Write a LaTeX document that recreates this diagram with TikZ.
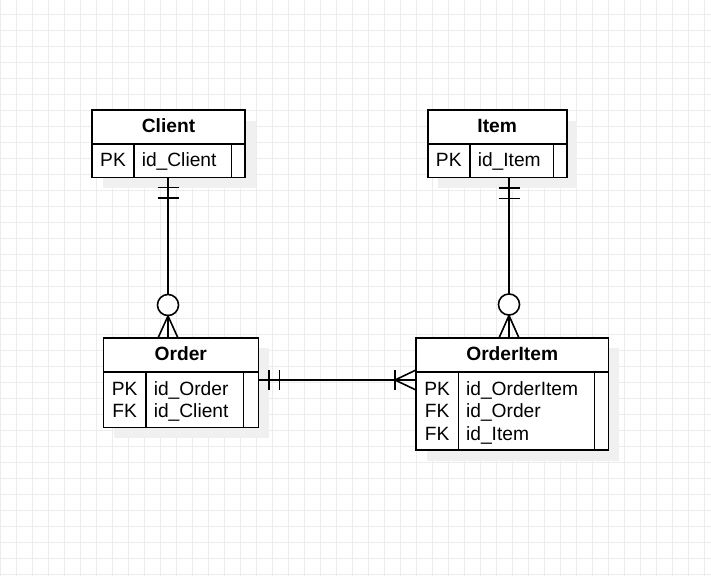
\documentclass[tikz,border=0pt]{standalone}
\usepackage{fontspec}
\setmainfont{Liberation Sans}
\usetikzlibrary{fit}
\definecolor{gridc}{RGB}{236,236,236}
\definecolor{shadowc}{RGB}{240,240,240}
\begin{document}
\begin{tikzpicture}[x=0.75pt,y=-0.75pt,
  ln/.style={line width=1.2pt, draw=black},
  tbl/.style={ln, fill=white, inner sep=0pt},
  ttl/.style={font=\fontsize{14.4}{17}\selectfont\bfseries, inner sep=0pt, anchor=base},
  key/.style={font=\fontsize{14.4}{17}\selectfont, inner sep=0pt, anchor=base},
  fld/.style={font=\fontsize{14.4}{17}\selectfont, inner sep=0pt, anchor=base west},
  shd/.style={fill=shadowc}]
\useasboundingbox (0,0) rectangle (711,576);
\fill[white] (0,0) rectangle (711,576);
% grid
\foreach \i in {0,...,44} \draw[gridc, line width=0.75pt] ({0.5+16*\i},0) -- ({0.5+16*\i},576);
\foreach \j in {0,...,35} \draw[gridc, line width=0.75pt] (0,{14.5+16*\j}) -- (711,{14.5+16*\j});
% shadows
\fill[shd] (102.5,120.5) rectangle (255.5,187.8);
\fill[shd] (438.2,120.5) rectangle (577.2,187.8);
\fill[shd] (113.8,348.2) rectangle (268.8,437.8);
\fill[shd] (426.5,348.2) rectangle (618.8,460.5);
% tables
\node[tbl, fit={(92,110)(245,177.3)}] (client) {};
\node[tbl, fit={(427.7,110)(566.7,177.3)}] (item) {};
\node[tbl, fit={(103.3,337.7)(258.3,427.3)}] (order) {};
\node[tbl, fit={(416,337.7)(608.3,450)}] (orderitem) {};
% inner lines
\draw[ln] (92,143.7) -- (245,143.7) (134,143.7) -- (134,177.3) (231.5,143.7) -- (231.5,177.3);
\draw[ln] (427.7,143.7) -- (566.7,143.7) (470,143.7) -- (470,177.3) (553.5,143.7) -- (553.5,177.3);
\draw[ln] (103.3,371.7) -- (258.3,371.7) (146,371.7) -- (146,427.3) (243.5,371.7) -- (243.5,427.3);
\draw[ln] (416,371.7) -- (608.3,371.7) (458.3,371.7) -- (458.3,450) (594.5,371.7) -- (594.5,450);
% texts
\node[ttl] (tclient) at (168.5,132) {Client};
\node[ttl] (titem) at (497.2,132) {Item};
\node[ttl] (torder) at (180.8,360) {Order};
\node[ttl] (torderitem) at (512.2,360) {OrderItem};
\node[key] (k1) at (113,166.7) {PK};
\node[fld] (f1) at (141.5,166.7) {id\_Client};
\node[key] (k2) at (448.8,166.7) {PK};
\node[fld] (f2) at (477.5,166.7) {id\_Item};
\node[key] (k3) at (124.7,395) {PK};
\node[fld] (f3) at (153.5,395) {id\_Order};
\node[key] (k4) at (124.7,417.5) {FK};
\node[fld] (f4) at (153.5,417.5) {id\_Client};
\node[key] (k5) at (437.2,395) {PK};
\node[fld] (f5) at (465.8,395) {id\_OrderItem};
\node[key] (k6) at (437.2,417.5) {FK};
\node[fld] (f6) at (465.8,417.5) {id\_Order};
\node[key] (k7) at (437.2,440) {FK};
\node[fld] (f7) at (465.8,440) {id\_Item};
% connectors
\coordinate (c1) at (168,0);
\coordinate (c2) at (509,0);
\coordinate (c3) at (0,380);
\draw[ln] (client.south -| c1) -- (order.north -| c1);
\draw[ln] (157.5,187.5) -- (178.5,187.5) (157.5,198) -- (178.5,198);
\draw[ln, fill=white] (168,305) circle[radius=7.9pt];
\draw[ln] (158,338) -- (168,316) -- (178,338);
\draw[ln] (item.south -| c2) -- (orderitem.north -| c2);
\draw[ln] (498.5,188) -- (519.5,188) (498.5,198.3) -- (519.5,198.3);
\draw[ln, fill=white] (509,304.5) circle[radius=7.9pt];
\draw[ln] (499,338) -- (509,315.5) -- (519,338);
\draw[ln] (order.east |- c3) -- (orderitem.west |- c3);
\draw[ln] (269,370) -- (269,390) (279.5,370) -- (279.5,390);
\draw[ln] (395,370) -- (395,390);
\draw[ln] (416,370) -- (395,380) -- (416,390);
\end{tikzpicture}
\end{document}
